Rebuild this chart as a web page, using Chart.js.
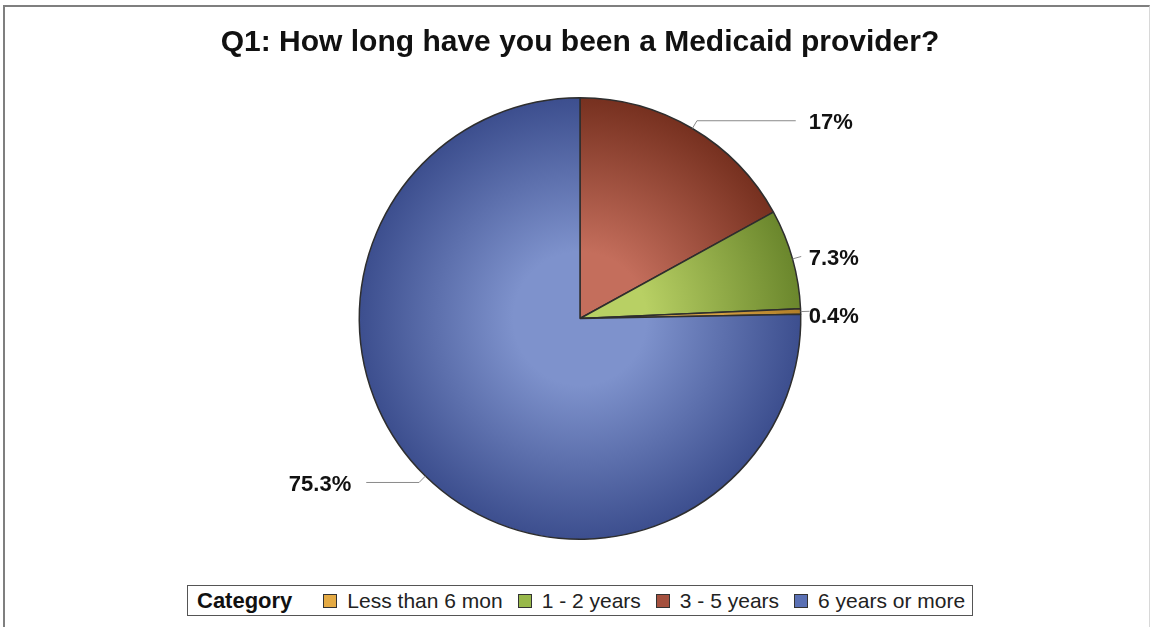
<!DOCTYPE html>
<html>
<head>
<meta charset="utf-8">
<script src="https://cdn.jsdelivr.net/npm/chart.js@4.4.1/dist/chart.umd.min.js"></script>
<style>
  html, body { margin: 0; padding: 0; background: #fff; }
  body { width: 1151px; height: 627px; position: relative; overflow: hidden; font-family: "Liberation Sans", Arial, sans-serif; }
  .frame { position: absolute; left: 3px; top: 5px; width: 1144px; height: 640px; border-left: 2px solid #7f7f7f; border-top: 2px solid #7f7f7f; border-right: 1px solid #d8d8d8; }
  #wrap { position: absolute; left: 0; top: 0; width: 1151px; height: 627px; }
  #legend { position: absolute; left: 187px; top: 585px; width: 786px; height: 31px; border: 1px solid #555; box-sizing: border-box; display: flex; align-items: center; padding: 0 0 0 9px; white-space: nowrap; background: #fff; }
  #legend .title { font-weight: bold; font-size: 22px; color: #111; margin-right: 31px; }
  #legend .item { display: flex; align-items: center; font-size: 21px; color: #222; margin-right: 15px; }
  #legend .item:last-child { margin-right: 0; }
  #legend .swatch { width: 12px; height: 12px; border: 1px solid #333; margin-right: 10px; }
</style>
</head>
<body>
<div class="frame"></div>
<div id="wrap"><canvas id="myChart" width="1151" height="627"></canvas></div>
<div id="legend"></div>
<script>
// Slices in drawing order (clockwise from 12 o'clock)
const sliceLabels = ['3 - 5 years', '1 - 2 years', 'Less than 6 mon', '6 years or more'];
const sliceValues = [17, 7.3, 0.4, 75.3];
const valueText = ['17%', '7.3%', '0.4%', '75.3%'];

// Legend order as in the reference
const legendOrder = ['Less than 6 mon', '1 - 2 years', '3 - 5 years', '6 years or more'];

// Light (centre) and dark (rim) shade for each category
const lightColors = {
  'Less than 6 mon': '#f0bc58',
  '1 - 2 years': '#b8d064',
  '3 - 5 years': '#c46e5c',
  '6 years or more': '#7e92cc'
};
const darkColors = {
  'Less than 6 mon': '#b07e28',
  '1 - 2 years': '#6a862c',
  '3 - 5 years': '#76301f',
  '6 years or more': '#3c4e8e'
};
const swatchColors = {
  'Less than 6 mon': '#e4aa44',
  '1 - 2 years': '#98b84a',
  '3 - 5 years': '#a4503e',
  '6 years or more': '#5a70b4'
};

// Build the boxed legend
const legendEl = document.getElementById('legend');
legendEl.innerHTML = '<span class="title">Category</span>' + legendOrder.map(name =>
  `<span class="item"><span class="swatch" style="background:${swatchColors[name]}"></span>${name}</span>`
).join('');

// Radial shading for each slice, centred on the pie
function shade(context) {
  const chart = context.chart;
  const name = sliceLabels[context.dataIndex];
  const area = chart.chartArea;
  if (!area) return lightColors[name];
  const cx = (area.left + area.right) / 2;
  const cy = (area.top + area.bottom) / 2;
  const r = Math.min(area.right - area.left, area.bottom - area.top) / 2;
  const g = chart.ctx.createRadialGradient(cx, cy, 0, cx, cy, r);
  g.addColorStop(0, lightColors[name]);
  g.addColorStop(0.3, lightColors[name]);
  g.addColorStop(1, darkColors[name]);
  return g;
}

// Plugin for the percentage labels with leader lines
const leaderLabels = {
  id: 'leaderLabels',
  afterDatasetsDraw(chart) {
    const ctx = chart.ctx;
    const arcs = chart.getDatasetMeta(0).data;
    ctx.save();
    ctx.font = 'bold 22px "Liberation Sans", Arial, sans-serif';
    ctx.fillStyle = '#111';
    ctx.textBaseline = 'middle';
    arcs.forEach((arc, i) => {
      const mid = (arc.startAngle + arc.endAngle) / 2;
      const r = arc.outerRadius;
      const ex = arc.x + Math.cos(mid) * r;
      const ey = arc.y + Math.sin(mid) * r;
      const bx = arc.x + Math.cos(mid) * (r + 9);
      const by = arc.y + Math.sin(mid) * (r + 9);
      const right = Math.cos(mid) >= 0;
      const colX = right ? arc.x + r + 8 : arc.x - r - 8;
      const lineEnd = right ? colX - 13 : colX + 15;
      ctx.strokeStyle = '#8a8a8a';
      ctx.lineWidth = 1;
      ctx.beginPath();
      ctx.moveTo(ex, ey);
      ctx.lineTo(bx, by);
      if ((right && bx < lineEnd) || (!right && bx > lineEnd)) ctx.lineTo(lineEnd, by);
      ctx.stroke();
      let ty = by + 2;
      if (sliceValues[i] < 1) ty = by + 6;
      ctx.textAlign = right ? 'left' : 'right';
      ctx.fillText(valueText[i], colX, ty);
    });
    ctx.restore();
  }
};

const ctx = document.getElementById('myChart').getContext('2d');
const myChart = new Chart(ctx, {
  type: 'pie',
  data: {
    labels: sliceLabels,
    datasets: [{
      data: sliceValues,
      backgroundColor: shade,
      borderColor: '#2e2e2e',
      borderWidth: 1.5
    }]
  },
  options: {
    responsive: false,
    animation: false,
    layout: {
      padding: { top: 0, bottom: 87, left: 9, right: 0 }
    },
    plugins: {
      legend: { display: false },
      tooltip: { enabled: false },
      title: {
        display: true,
        text: 'Q1: How long have you been a Medicaid provider?',
        color: '#111',
        font: { family: '"Liberation Sans", Arial, sans-serif', size: 30, weight: 'bold' },
        padding: { top: 25, bottom: 36 }
      }
    }
  },
  plugins: [leaderLabels]
});
</script>
</body>
</html>
